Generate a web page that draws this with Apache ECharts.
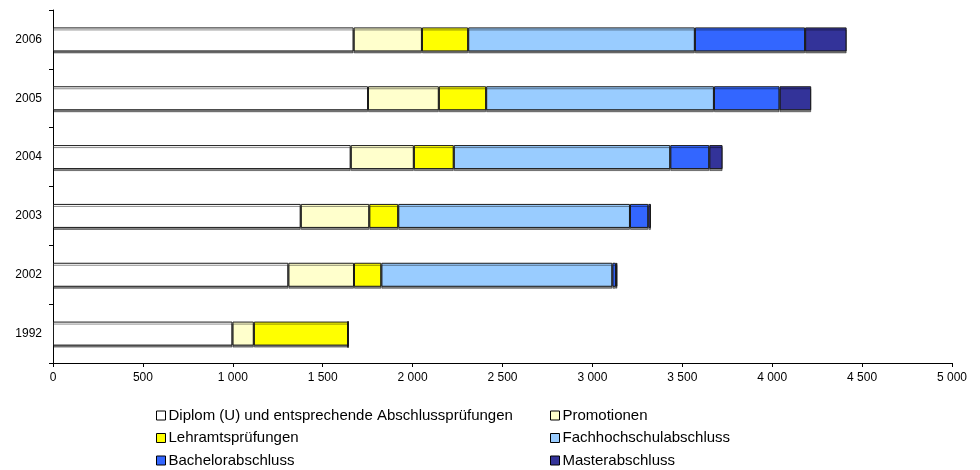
<!DOCTYPE html>
<html><head><meta charset="utf-8">
<script src="https://cdn.jsdelivr.net/npm/echarts@6/dist/echarts.min.js"></script>
<style>html,body{margin:0;padding:0;background:#fff}#c{width:980px;height:470px}</style>
</head><body><div id="c"></div>
<script>
var categories = ['1992', '2002', '2003', '2004', '2005', '2006'];
var seriesNames = ['Diplom (U) und entsprechende Abschlussprüfungen', 'Promotionen', 'Lehramtsprüfungen', 'Fachhochschulabschluss', 'Bachelorabschluss', 'Masterabschluss'];
var diplom = [998, 1309, 1378, 1656, 1752, 1672];
var promotionen = [119, 365, 381, 351, 394, 380];
var lehramt = [524, 152, 161, 222, 263, 257];
var fachhochschule = [0, 1285, 1289, 1204, 1267, 1261];
var bachelor = [0, 20, 102, 217, 365, 613];
var master = [0, 8, 15, 74, 176, 231];
var colors = ['#FFFFFF', '#FFFFCC', '#FFFF00', '#99CCFF', '#3366FF', '#333399'];
var xTicks = [0, 500, 1000, 1500, 2000, 2500, 3000, 3500, 4000, 4500, 5000];

var allData = [diplom, promotionen, lehramt, fachhochschule, bachelor, master];
var font = 'Liberation Sans, Arial, sans-serif';
var chart = echarts.init(document.getElementById('c'));
var series = seriesNames.map(function (n, i) {
  return {
    name: n, type: 'bar', stack: 'total', barWidth: 24,
    data: allData[i],
    itemStyle: { color: colors[i], borderColor: '#1a1a1a', borderWidth: 1,
      shadowColor: 'rgba(0,0,0,0.45)', shadowOffsetY: 2, shadowBlur: 0 },
    emphasis: { disabled: true }, animation: false
  };
});
var legendPos = [[156, 408], [550, 408], [156, 430.5], [550, 430.5], [156, 453], [550, 453]];
var legends = seriesNames.map(function (n, i) {
  return {
    data: [{ name: n, itemStyle: { borderColor: '#000', borderWidth: 1 } }],
    left: legendPos[i][0], top: legendPos[i][1], icon: 'rect', itemWidth: 9, itemHeight: 9, itemGap: 0,
    padding: 0, selectedMode: false,
    textStyle: { fontFamily: font, fontSize: 15, color: '#000', padding: [0, 0, 0, -2] }
  };
});
chart.setOption({
  backgroundColor: '#fff',
  animation: false,
  grid: { left: 53, right: 28, top: 10, bottom: 107, containLabel: false },
  legend: legends,
  xAxis: {
    type: 'value', min: xTicks[0], max: xTicks[xTicks.length - 1], interval: xTicks[1] - xTicks[0],
    axisLine: { show: true, lineStyle: { color: '#000', width: 1 } },
    axisTick: { show: true, length: 4, lineStyle: { color: '#000' } },
    splitLine: { show: false },
    axisLabel: { fontFamily: font, fontSize: 12, color: '#000', margin: 9,
      formatter: function (v) { return String(v).replace(/\B(?=(\d{3})+(?!\d))/g, ' '); } }
  },
  yAxis: {
    type: 'category', data: categories,
    axisLine: { show: true, lineStyle: { color: '#000', width: 1 } },
    axisTick: { show: true, length: 4, lineStyle: { color: '#000' } },
    axisLabel: { fontFamily: font, fontSize: 12, color: '#000', margin: 11 }
  },
  series: series
});
</script></body></html>
